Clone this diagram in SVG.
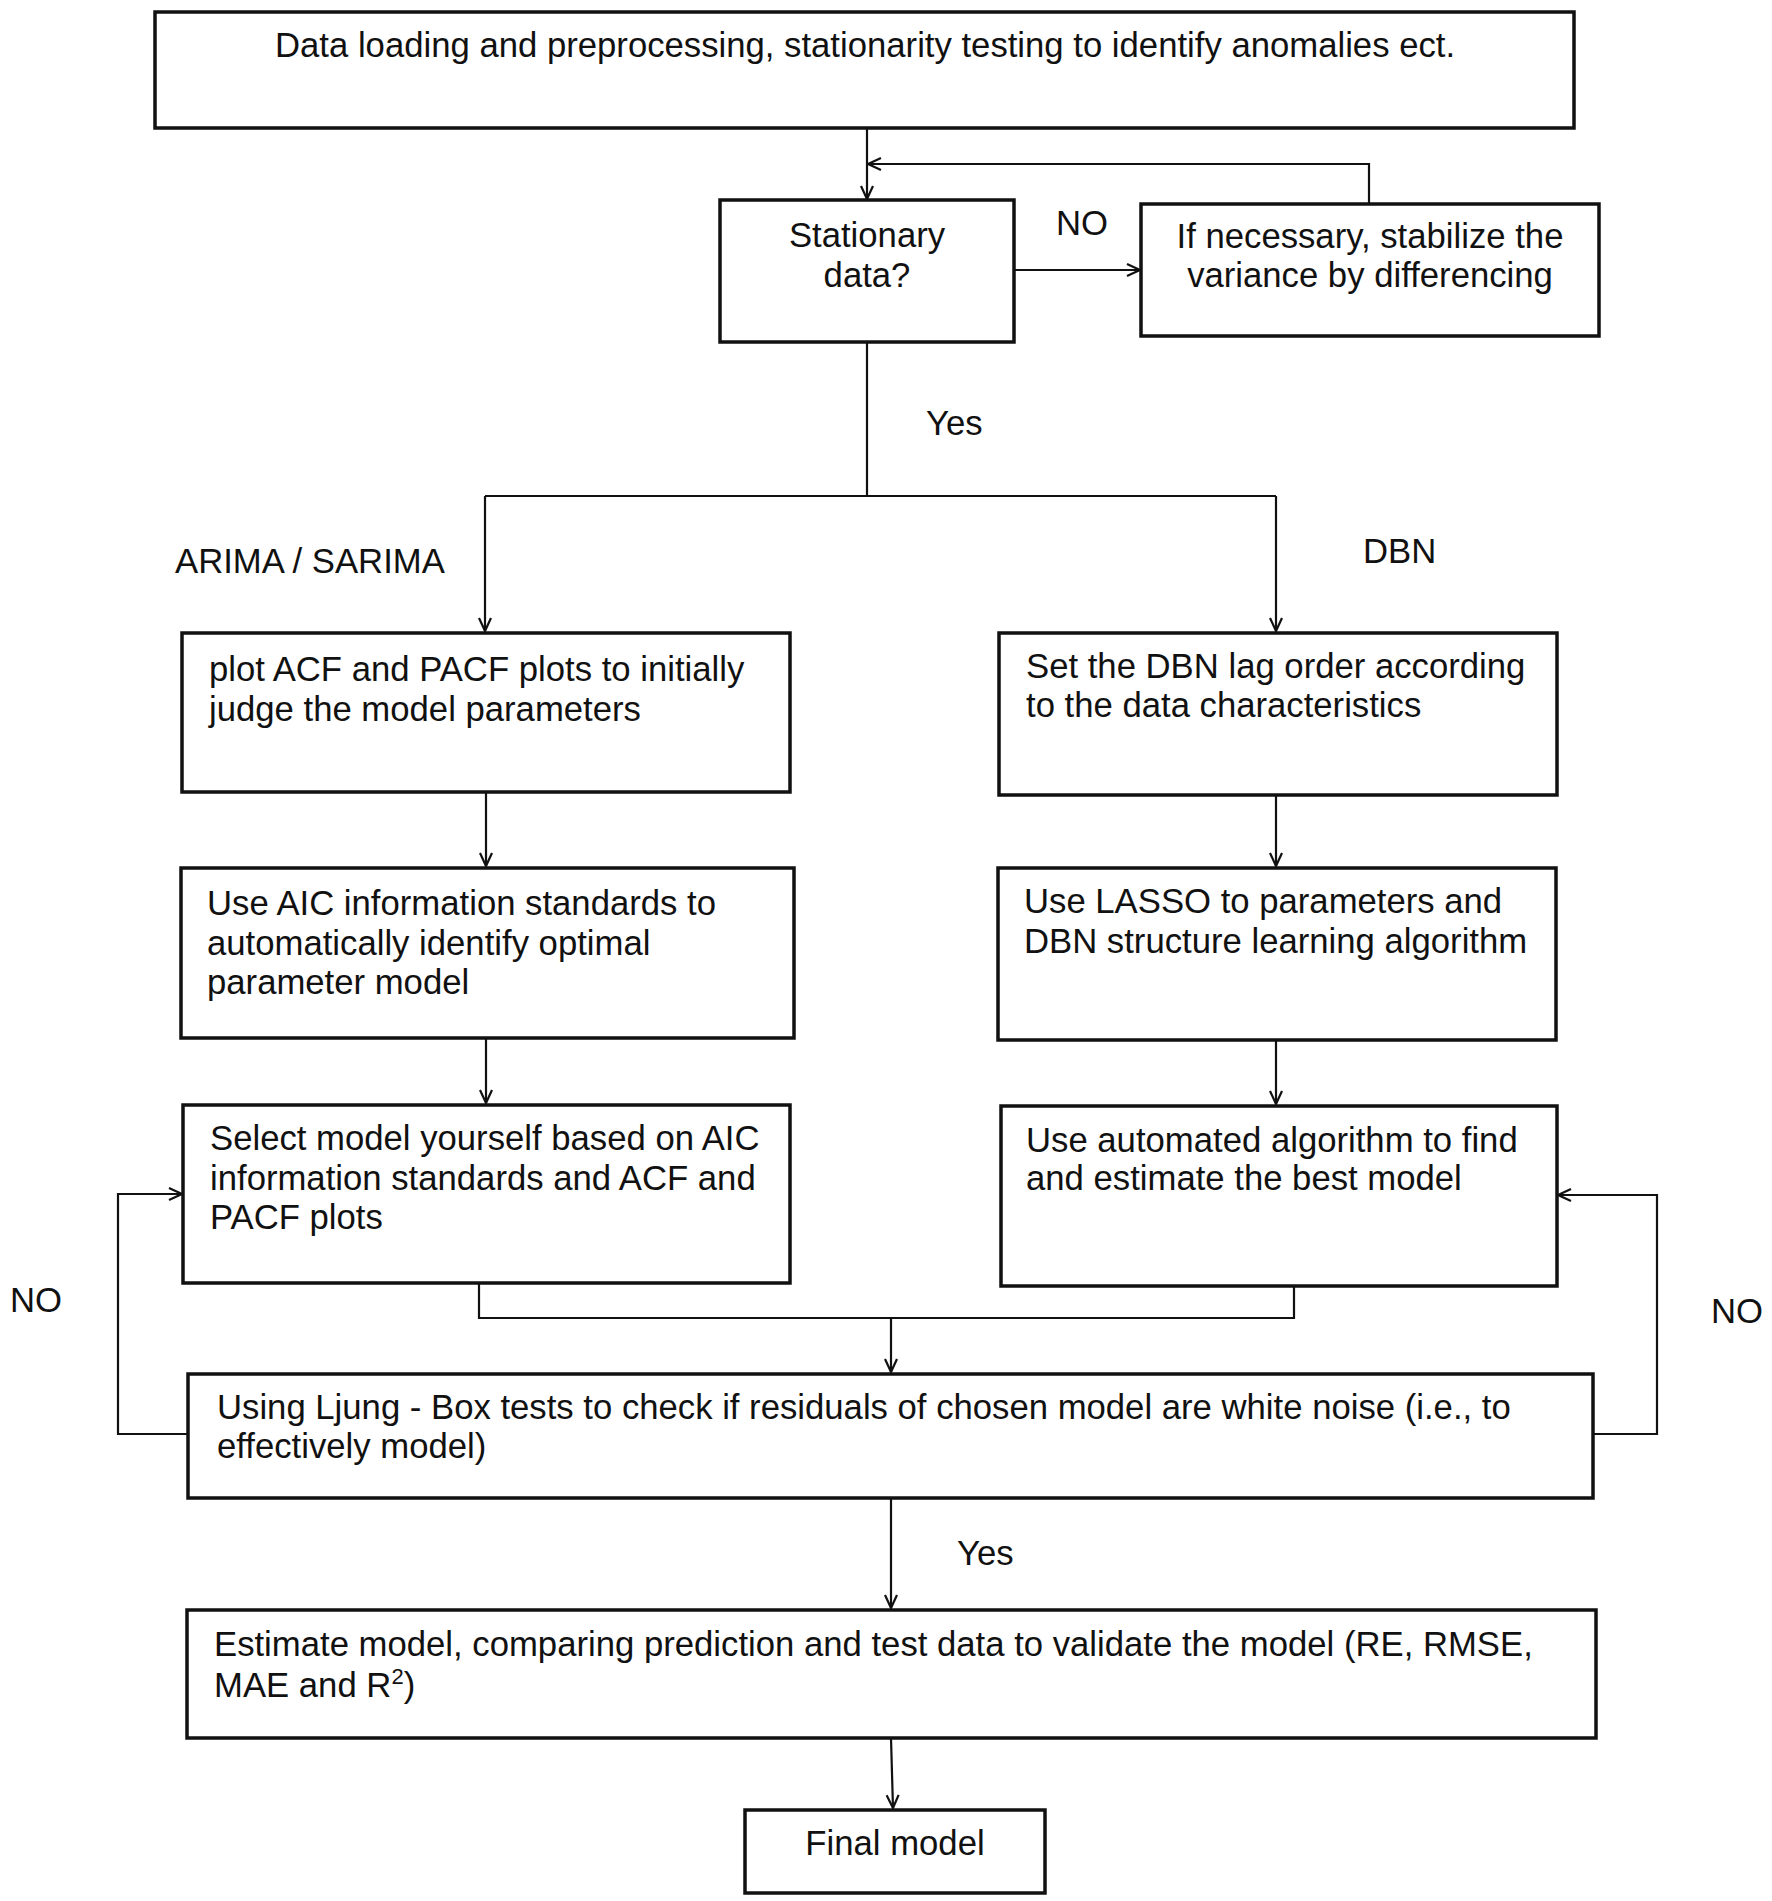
<svg xmlns="http://www.w3.org/2000/svg" width="1772" height="1901" viewBox="0 0 1772 1901">
<style>
.box{fill:#fff;stroke:#111;stroke-width:3.5}
.t{font-family:"Liberation Sans",Arial,sans-serif;font-size:34.7px;fill:#111}
.c{text-anchor:middle}
.ln{fill:none;stroke:#111;stroke-width:2.2}
</style>
<defs>
<marker id="ah" viewBox="0 0 16 16" refX="15" refY="8" markerWidth="16" markerHeight="16" markerUnits="userSpaceOnUse" orient="auto">
<path d="M2,2 L15,8 L2,14" fill="none" stroke="#111" stroke-width="2.2"/>
</marker>
</defs>
<rect width="1772" height="1901" fill="#fff"/>
<g id="connectors">
<path class="ln" d="M867,128 V199" marker-end="url(#ah)"/>
<path class="ln" d="M1369,204 V164 H868" marker-end="url(#ah)"/>
<path class="ln" d="M1014,270 H1140" marker-end="url(#ah)"/>
<path class="ln" d="M867,342 V496"/>
<path class="ln" d="M485,496 H1276"/>
<path class="ln" d="M485,496 V631" marker-end="url(#ah)"/>
<path class="ln" d="M1276,496 V631" marker-end="url(#ah)"/>
<path class="ln" d="M486,792 V866" marker-end="url(#ah)"/>
<path class="ln" d="M1276,795 V866" marker-end="url(#ah)"/>
<path class="ln" d="M486,1038 V1103" marker-end="url(#ah)"/>
<path class="ln" d="M1276,1040 V1104" marker-end="url(#ah)"/>
<path class="ln" d="M479,1283 V1318 H1294 V1286"/>
<path class="ln" d="M891,1318 V1372" marker-end="url(#ah)"/>
<path class="ln" d="M188,1434 H118 V1194 H182" marker-end="url(#ah)"/>
<path class="ln" d="M1593,1434 H1657 V1195 H1558" marker-end="url(#ah)"/>
<path class="ln" d="M891,1498 V1608" marker-end="url(#ah)"/>
<path class="ln" d="M891,1738 L893,1808" marker-end="url(#ah)"/>
</g>
<g id="labels">
<text class="t c" x="1082" y="235">NO</text>
<text class="t" x="926" y="435">Yes</text>
<text class="t" x="175" y="573">ARIMA / SARIMA</text>
<text class="t" x="1363" y="563">DBN</text>
<text class="t" x="10" y="1312">NO</text>
<text class="t" x="1711" y="1323">NO</text>
<text class="t" x="957" y="1565">Yes</text>
</g>
<g id="n-load">
<rect class="box" x="155" y="12" width="1419" height="116"/>
<text class="t" x="275" y="57">Data loading and preprocessing, stationarity testing to identify anomalies ect.</text>
</g>
<g id="n-stationary">
<rect class="box" x="720" y="200" width="294" height="142"/>
<text class="t c" x="867" y="247">Stationary</text>
<text class="t c" x="867" y="287">data?</text>
</g>
<g id="n-variance">
<rect class="box" x="1141" y="204" width="458" height="132"/>
<text class="t c" x="1370" y="248">If necessary, stabilize the</text>
<text class="t c" x="1370" y="287">variance by differencing</text>
</g>
<g id="n-acf">
<rect class="box" x="182" y="633" width="608" height="159"/>
<text class="t" x="209" y="681">plot ACF and PACF plots to initially</text>
<text class="t" x="209" y="721">judge the model parameters</text>
</g>
<g id="n-lag">
<rect class="box" x="999" y="633" width="558" height="162"/>
<text class="t" x="1026" y="678">Set the DBN lag order according</text>
<text class="t" x="1026" y="717">to the data characteristics</text>
</g>
<g id="n-aic">
<rect class="box" x="181" y="868" width="613" height="170"/>
<text class="t" x="207" y="915">Use AIC information standards to</text>
<text class="t" x="207" y="955">automatically identify optimal</text>
<text class="t" x="207" y="994">parameter model</text>
</g>
<g id="n-lasso">
<rect class="box" x="998" y="868" width="558" height="172"/>
<text class="t" x="1024" y="913">Use LASSO to parameters and</text>
<text class="t" x="1024" y="953">DBN structure learning algorithm</text>
</g>
<g id="n-select">
<rect class="box" x="183" y="1105" width="607" height="178"/>
<text class="t" x="210" y="1150">Select model yourself based on AIC</text>
<text class="t" x="210" y="1190">information standards and ACF and</text>
<text class="t" x="210" y="1229">PACF plots</text>
</g>
<g id="n-auto">
<rect class="box" x="1001" y="1106" width="556" height="180"/>
<text class="t" x="1026" y="1152">Use automated algorithm to find</text>
<text class="t" x="1026" y="1190">and estimate the best model</text>
</g>
<g id="n-ljung">
<rect class="box" x="188" y="1374" width="1405" height="124"/>
<text class="t" x="217" y="1419">Using Ljung - Box tests to check if residuals of chosen model are white noise (i.e., to</text>
<text class="t" x="217" y="1458">effectively model)</text>
</g>
<g id="n-estimate">
<rect class="box" x="187" y="1610" width="1409" height="128"/>
<text class="t" x="214" y="1656">Estimate model, comparing prediction and test data to validate the model (RE, RMSE,</text>
<text class="t" x="214" y="1697">MAE and R<tspan font-size="22" dy="-13">2</tspan><tspan dy="13">)</tspan></text>
</g>
<g id="n-final">
<rect class="box" x="745" y="1810" width="300" height="83"/>
<text class="t c" x="895" y="1855">Final model</text>
</g>
</svg>
